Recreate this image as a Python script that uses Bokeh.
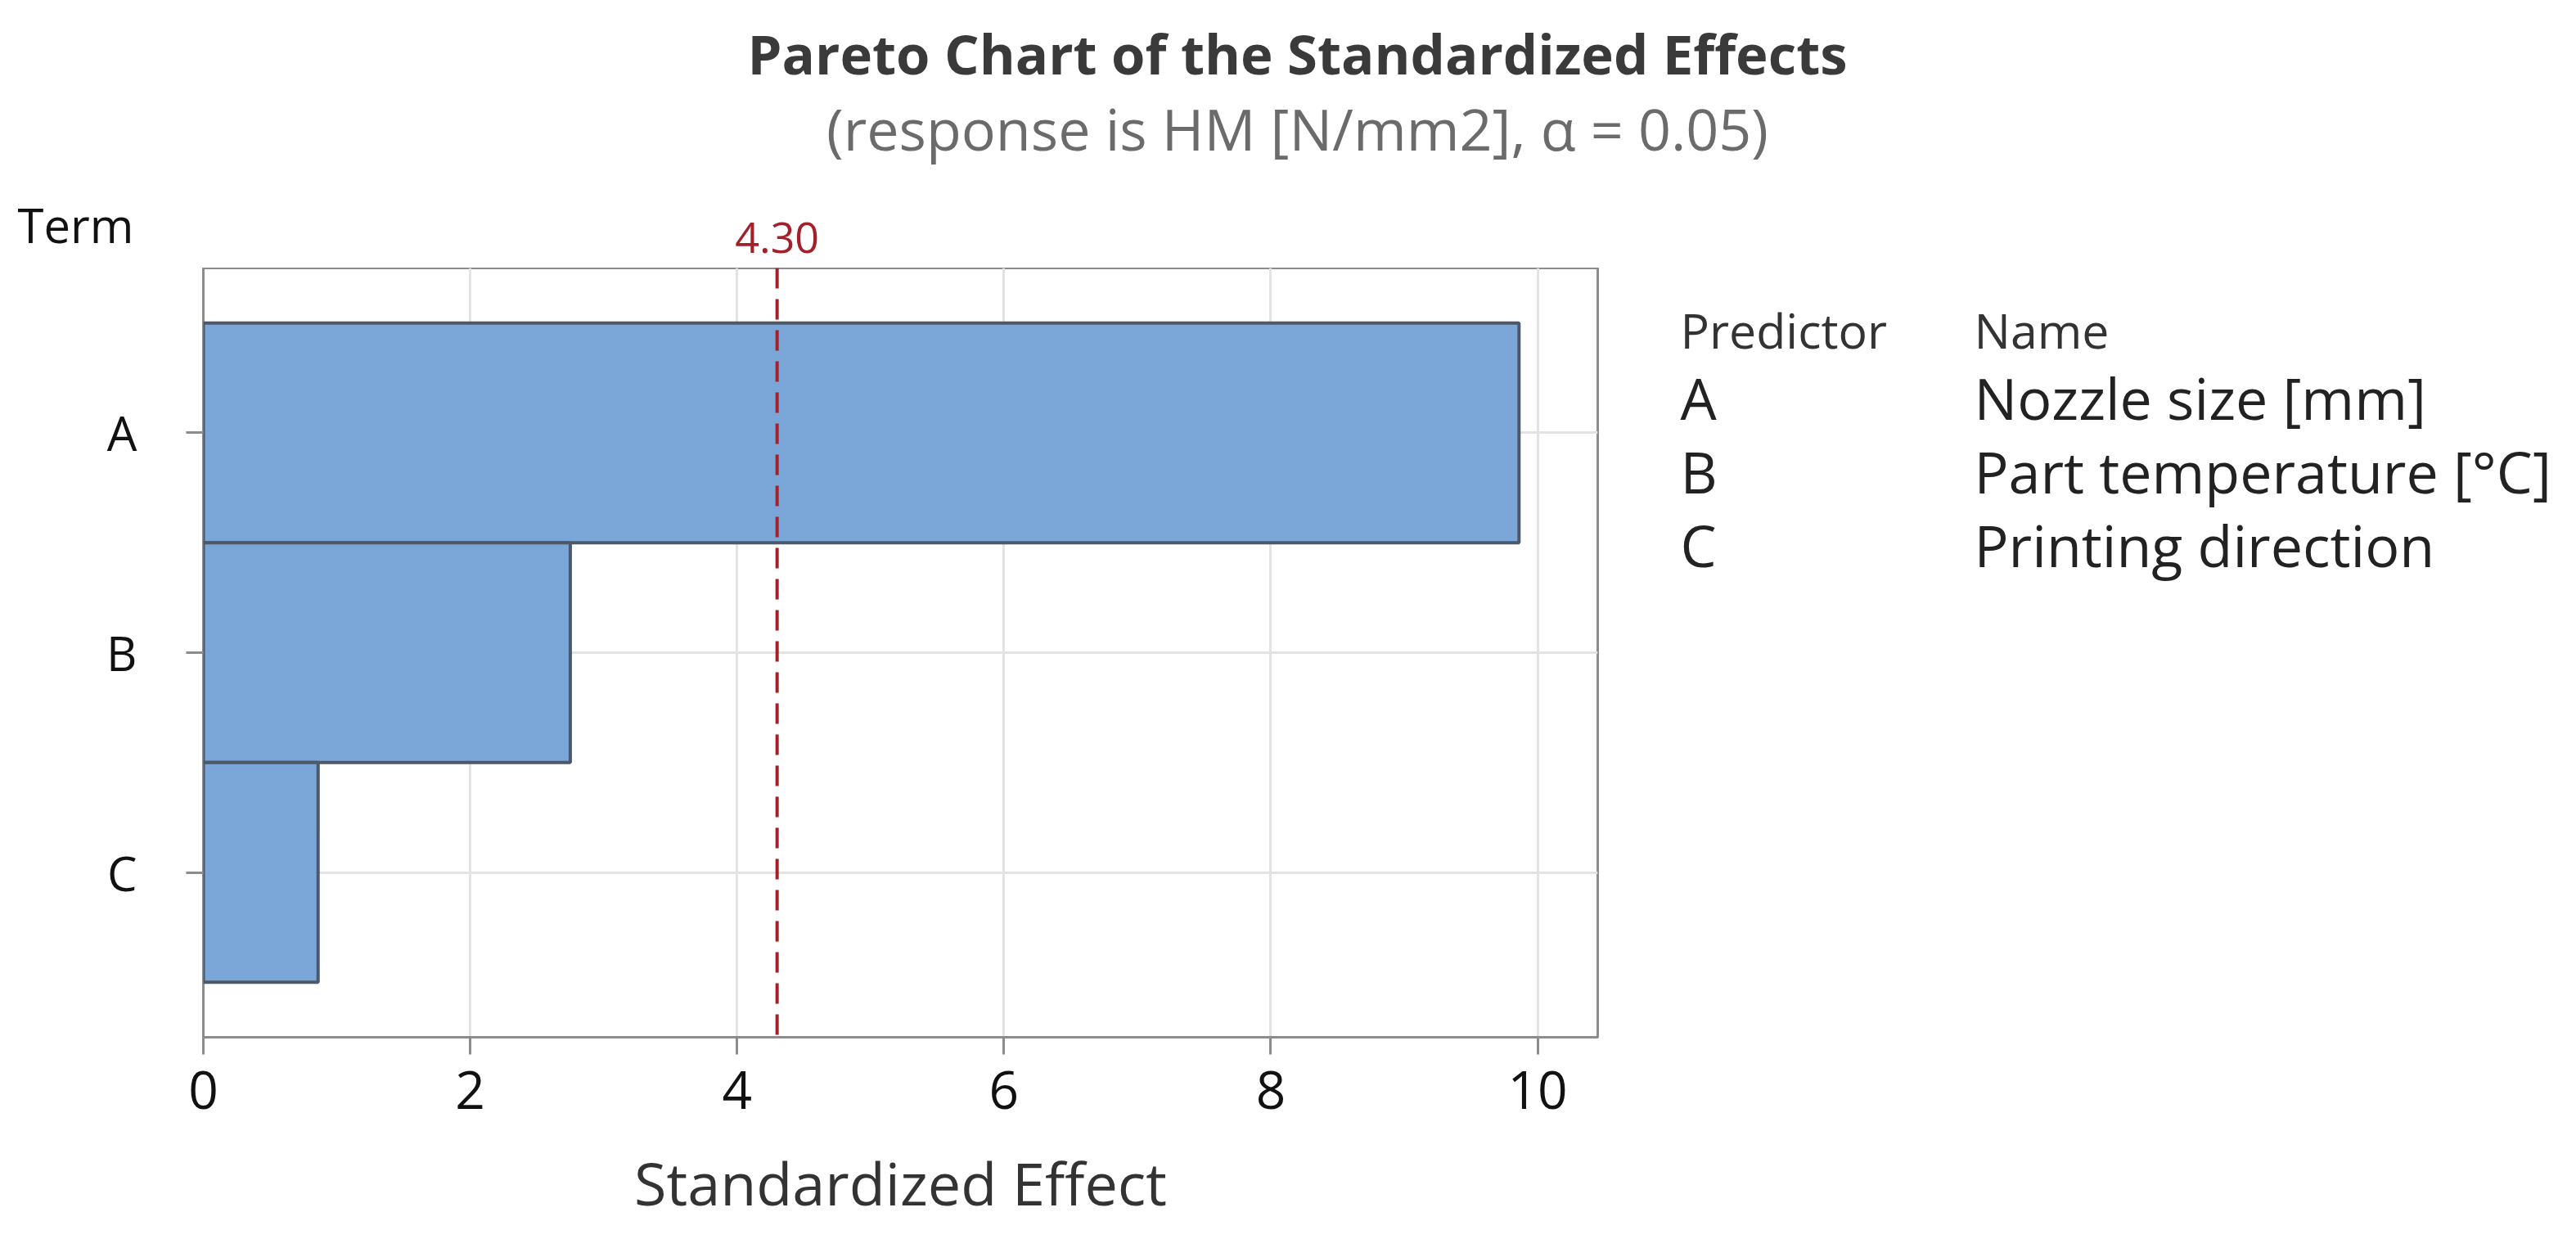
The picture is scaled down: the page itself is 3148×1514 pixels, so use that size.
from bokeh.plotting import figure
from bokeh.models import Range1d, FixedTicker, Span
from bokeh.layouts import column, row
from bokeh.core.properties import value
from bokeh.embed import file_html
from bokeh.resources import INLINE

# ---- data ----
terms = ["A", "B", "C"]
effects = [9.86, 2.75, 0.86]
threshold = 4.30
threshold_label = "4.30"
x_ticks = [0, 2, 4, 6, 8, 10]
x_max = 10.45
predictors = ["A", "B", "C"]
names = ["Nozzle size [mm]", "Part temperature [°C]", "Printing direction"]
title_text = "Pareto Chart of the Standardized Effects"
subtitle_text = "(response is HM [N/mm2], \u03b1 = 0.05)"
x_label = "Standardized Effect"
y_label = "Term"
legend_headers = ["Predictor", "Name"]

# ---- layout (page pixels) ----
FONT = "Open Sans"
W, H = 3144, 1510
FL, FR, FT, FB = 248, 1952, 327, 1267   # chart frame
T = FT             # height of the top (title) strip
MW = 2000          # width of the main chart figure
X0, X1 = 0, x_max
Y0, Y1 = -0.75, len(terms) - 0.25


def blank(width, height, x0, x1, y_top, y_bottom, border_top=0, border_bottom=0):
    f = figure(width=width, height=height, output_backend="svg", toolbar_location=None,
               title=None,
               x_range=Range1d(x0, x1), y_range=Range1d(y_bottom, y_top),
               x_axis_type=None, y_axis_type=None,
               min_border_left=0, min_border_right=0,
               min_border_top=border_top, min_border_bottom=border_bottom)
    f.outline_line_color = None
    f.background_fill_color = "white"
    f.border_fill_color = "white"
    f.xgrid.visible = False
    f.ygrid.visible = False
    return f


def put(f, text, cx, cy, size, color, align="left", style="normal"):
    # cy is the vertical middle of the text
    f.text(x=[cx], y=[cy], text=[text], text_font=value(FONT),
           text_font_size=value(f"{size}px"), text_color=color,
           text_align=align, text_baseline="middle", text_font_style=style)


# ---- top strip: titles, "Term", threshold label ----
top = blank(W, T, 0, W, 0, T)
put(top, title_text, 1585, 64, 67, "#3A3A3A", align="center", style="bold")
put(top, subtitle_text, 1585, 156, 70, "#6B6B6B", align="center")
put(top, y_label, 21, 274, 58, "#111111")
thr_cx = FL + (threshold - X0) / (X1 - X0) * (FR - FL)
put(top, threshold_label, thr_cx, 290, 52, "#A3202A", align="center")

# ---- main chart ----
HM = H - T
p = figure(width=MW, height=HM, output_backend="svg", toolbar_location=None,
           title=None,
           x_range=Range1d(X0, X1), y_range=Range1d(Y1, Y0),
           min_border_left=FL, min_border_right=MW - FR,
           min_border_top=FT - T, min_border_bottom=H - FB)
p.background_fill_color = "white"
p.border_fill_color = "white"
p.outline_line_color = "#8C8C8C"
p.outline_line_width = 3

p.xgrid.ticker = FixedTicker(ticks=x_ticks)
p.ygrid.ticker = FixedTicker(ticks=list(range(len(terms))))
for g in (p.xgrid, p.ygrid):
    g.grid_line_color = "#E3E3E3"
    g.grid_line_width = 3

ypos = list(range(len(terms)))
p.hbar(y=ypos, height=1, left=0, right=effects,
       fill_color="#7BA6D8", line_color="#4D5868", line_width=4)

p.add_layout(Span(location=threshold, dimension="height", line_color="#A3202A",
                  line_width=4, line_dash="25 13"))

xa = p.xaxis[0]
xa.ticker = FixedTicker(ticks=x_ticks)
xa.axis_line_color = "#8C8C8C"
xa.axis_line_width = 3
xa.major_tick_line_color = "#8C8C8C"
xa.major_tick_line_width = 3
xa.major_tick_out = 21
xa.major_tick_in = 0
xa.minor_tick_line_color = None
xa.major_label_text_font = FONT
xa.major_label_text_font_size = "64px"
xa.major_label_text_color = "#111111"
xa.major_label_standoff = 20
xa.axis_label = x_label
xa.axis_label_text_font = FONT
xa.axis_label_text_font_size = "72px"
xa.axis_label_text_font_style = "normal"
xa.axis_label_text_color = "#333333"
xa.axis_label_standoff = 38

ya = p.yaxis[0]
ya.ticker = FixedTicker(ticks=ypos)
ya.major_label_overrides = {i: t for i, t in enumerate(terms)}
ya.axis_line_color = None
ya.major_tick_line_color = "#8C8C8C"
ya.major_tick_line_width = 3
ya.major_tick_out = 21
ya.major_tick_in = 0
ya.minor_tick_line_color = None
ya.major_label_text_font = FONT
ya.major_label_text_font_size = "58px"
ya.major_label_text_color = "#111111"
ya.major_label_standoff = 60

# ---- side: predictor table (its frame lines up with the chart frame) ----
side = blank(W - MW, HM, MW, W, FT, FB, border_top=FT - T, border_bottom=H - FB)
put(side, legend_headers[0], 2053, 402, 59, "#333333")
put(side, legend_headers[1], 2412, 402, 59, "#333333")
for i, (pr, nm) in enumerate(zip(predictors, names)):
    mid = 485 + 90 * i
    put(side, pr, 2053, mid, 70, "#222222")
    put(side, nm, 2412, mid, 70, "#222222")

layout = column(top, row(p, side))
open("out.html", "w").write(file_html(layout, INLINE))
